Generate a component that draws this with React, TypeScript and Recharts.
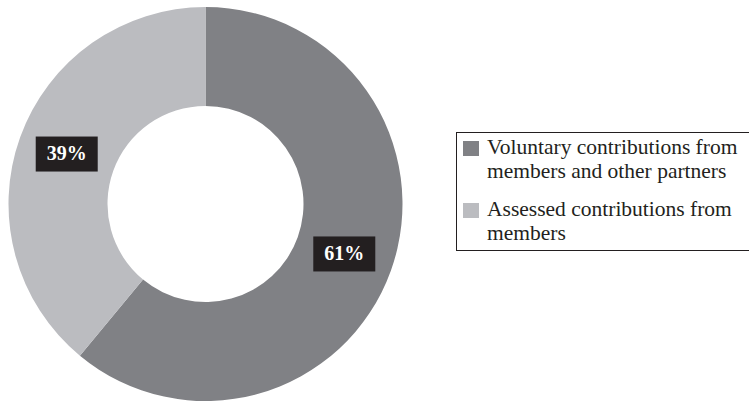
import { Cell, Legend, Pie, PieChart } from "recharts";

const names = ["Voluntary contributions from members and other partners", "Assessed contributions from members"];
const shares = [61, 39];
const colors = ["#808185", "#bbbcc0"];

const data = names.map((name, i) => ({ name, value: shares[i] }));

const RADIAN = Math.PI / 180;
const serif = '"Liberation Serif", "DejaVu Serif", serif';

const renderLabel = (props: any) => {
  const { cx, cy, midAngle, innerRadius, outerRadius, value } = props;
  const r = (innerRadius + outerRadius) / 2;
  const x = cx + r * Math.cos(-midAngle * RADIAN);
  const y = cy + r * Math.sin(-midAngle * RADIAN);
  return (
    <g>
      <rect x={x - 31} y={y - 17.5} width={62} height={35} fill="#231f20" />
      <text
        x={x}
        y={y + 1}
        textAnchor="middle"
        dominantBaseline="middle"
        fill="#ffffff"
        fontFamily={serif}
        fontWeight="bold"
        fontSize={20}
      >
        {value}%
      </text>
    </g>
  );
};

const LegendBox = () => (
  <div
    style={{
      borderTop: "1.5px solid #231f20",
      borderLeft: "1.5px solid #231f20",
      borderBottom: "1.5px solid #231f20",
      padding: "2px 0 5px 6px",
      fontFamily: serif,
      fontSize: 21.5,
      lineHeight: "24px",
      color: "#231f20",
      boxSizing: "border-box",
      width: 293,
    }}
  >
    {data.map((d, i) => (
      <div key={d.name} style={{ display: "flex", marginTop: i === 0 ? 0 : 14 }}>
        <div style={{ width: 16, height: 15, marginTop: 6, marginRight: 8, background: colors[i], flexShrink: 0 }} />
        <div style={{ width: 262 }}>{d.name}</div>
      </div>
    ))}
  </div>
);

export default function App() {
  return (
    <div style={{ position: "absolute", left: 0, top: 0, background: "#fff" }}>
      <PieChart width={749} height={405} margin={{ top: 0, right: 0, bottom: 0, left: 0 }}>
        <Pie
          data={data}
          dataKey="value"
          nameKey="name"
          cx={205.5}
          cy={204}
          innerRadius={98}
          outerRadius={197}
          startAngle={90}
          endAngle={-270}
          stroke="none"
          label={renderLabel}
          labelLine={false}
          isAnimationActive={false}
        >
          {data.map((d, i) => (
            <Cell key={d.name} fill={colors[i]} />
          ))}
        </Pie>
        <Legend content={<LegendBox />} wrapperStyle={{ left: 456, top: 132, width: 293 }} />
      </PieChart>
    </div>
  );
}
